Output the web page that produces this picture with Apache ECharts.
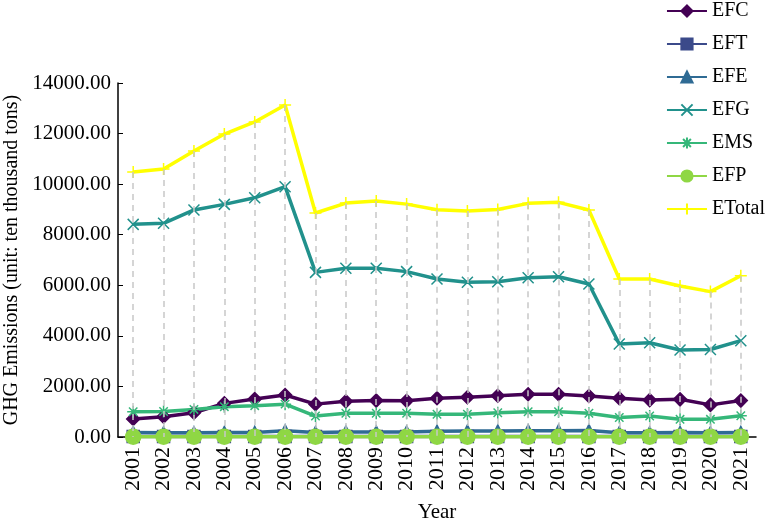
<!DOCTYPE html>
<html lang="en">
<head>
<meta charset="UTF-8">
<title>GHG Emissions</title>
<style>
  html, body { margin: 0; padding: 0; background: #fff; }
  #chart { width: 767px; height: 524px; }
</style>
</head>
<body>
<div id="chart"></div>
<script src="https://cdn.jsdelivr.net/npm/echarts@6/dist/echarts.min.js"></script>
<script>
var years = ['2001','2002','2003','2004','2005','2006','2007','2008','2009','2010','2011',
             '2012','2013','2014','2015','2016','2017','2018','2019','2020','2021'];
var efc = [710, 800, 960, 1330, 1500, 1660, 1300, 1410, 1440, 1430, 1530,
           1570, 1630, 1690, 1690, 1620, 1530, 1460, 1490, 1270, 1440];
var eft = [20, 20, 20, 20, 20, 20, 20, 20, 20, 20, 20,
           20, 20, 20, 20, 20, 20, 20, 20, 20, 20];
var efe = [180, 170, 170, 180, 180, 250, 180, 200, 200, 200, 230,
           240, 240, 250, 250, 260, 170, 170, 180, 170, 180];
var efg = [8410, 8450, 8980, 9200, 9460, 9900, 6510, 6670, 6670, 6540, 6250,
           6120, 6140, 6300, 6340, 6050, 3680, 3730, 3440, 3460, 3810];
var ems = [1000, 1010, 1090, 1200, 1240, 1300, 830, 940, 940, 940, 900,
           900, 960, 1000, 1000, 940, 770, 830, 700, 700, 840];
var efp = [10, 10, 10, 10, 10, 10, 10, 10, 10, 10, 10,
           10, 10, 10, 10, 10, 10, 10, 10, 10, 10];
var etotal = [10480, 10600, 11310, 11980, 12460, 13130, 8860, 9250, 9330, 9210, 8990,
              8940, 9000, 9240, 9280, 8980, 6250, 6250, 5970, 5750, 6380];

var font = 'Liberation Serif, Times New Roman, serif';
var crossPath = 'path://M0,0L10,10M10,0L0,10';
var starPath = 'path://M5,0L5,10M0,5L10,5M1.5,1.5L8.5,8.5M8.5,1.5L1.5,8.5';
var plusPath = 'path://M5,0L5,10M0,5L10,5';

function mk(name, data, color, symbol, size, lw) {
    return {
        name: name,
        type: 'line',
        data: data,
        z: 3,
        symbol: symbol,
        symbolSize: size,
        lineStyle: { color: color, width: lw || 3.5 },
        itemStyle: { color: color, borderColor: color, borderWidth: 1.5 }
    };
}

var drops = etotal.map(function (v, i) {
    return [{ coord: [i, v] }, { coord: [i, 0] }];
});

var chart = echarts.init(document.getElementById('chart'));
chart.setOption({
    animation: false,
    backgroundColor: '#fff',
    grid: { left: 118, right: 11, top: 83, bottom: 87, containLabel: false, outerBoundsMode: 'none' },
    legend: {
        data: ['EFC', 'EFT', 'EFE', 'EFG', 'EMS', 'EFP', 'ETotal'],
        orient: 'vertical',
        right: -3,
        top: -4,
        itemWidth: 40,
        itemHeight: 14,
        itemGap: 13,
        textStyle: { fontFamily: font, fontSize: 20, color: '#000' }
    },
    xAxis: {
        type: 'category',
        data: years,
        name: 'Year',
        nameLocation: 'middle',
        nameGap: 65,
        nameTextStyle: { fontFamily: font, fontSize: 21, color: '#000' },
        axisLine: { lineStyle: { color: '#000', width: 1.5 } },
        axisTick: { inside: true, length: 4, lineStyle: { color: '#000' } },
        axisLabel: { rotate: 90, fontFamily: font, fontSize: 22, color: '#000', margin: 10 }
    },
    yAxis: {
        type: 'value',
        min: 0,
        max: 14000,
        interval: 2000,
        name: 'GHG Emissions (unit: ten thousand tons)',
        nameLocation: 'middle',
        nameGap: 92,
        nameTextStyle: { fontFamily: font, fontSize: 20, color: '#000' },
        axisLine: { show: true, lineStyle: { color: '#000', width: 1.5 } },
        axisTick: { show: true, inside: true, length: 5, lineStyle: { color: '#000' } },
        splitLine: { show: false },
        axisLabel: {
            fontFamily: font, fontSize: 21, color: '#000', margin: 7,
            formatter: function (v) { return v.toFixed(2); }
        }
    },
    series: [
        {
            name: 'drop',
            type: 'line',
            data: etotal,
            z: 1,
            symbol: 'none',
            lineStyle: { opacity: 0 },
            markLine: {
                silent: true,
                symbol: 'none',
                label: { show: false },
                lineStyle: { color: '#c8c8c8', type: [6, 5], width: 1.5 },
                data: drops
            }
        },
        mk('EFC', efc, '#440154', 'diamond', 13),
        mk('EFT', eft, '#3b4a8a', 'rect', 12),
        mk('EFE', efe, '#2f6b94', 'triangle', 12),
        mk('EFG', efg, '#21918c', crossPath, 11),
        mk('EMS', ems, '#35b779', starPath, 12),
        mk('EFP', efp, '#8fd744', 'circle', 15),
        mk('ETotal', etotal, '#ffff00', plusPath, 12)
    ]
});
</script>
</body>
</html>
